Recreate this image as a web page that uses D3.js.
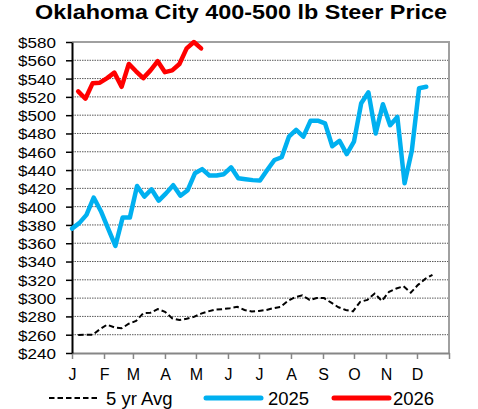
<!DOCTYPE html>
<html>
<head>
<meta charset="utf-8">
<style>
/* page + text styling */
body { margin: 0; background: #fff; }
text { font-family: "Liberation Sans", Arial, sans-serif; fill: #000; }
</style>
</head>
<body>
<svg id="thevis" width="478" height="409"></svg>

<script src="https://d3js.org/d3.v7.min.js"></script>
<script>

// data (weekly prices, $/cwt)

var months = ["J", "F", "M", "A", "M", "J", "J", "A", "S", "O", "N", "D"];
var monthStartDays = [0, 31, 59, 90, 120, 151, 181, 212, 243, 273, 304, 334, 365];
var yTickValues = [240, 260, 280, 300, 320, 340, 360, 380, 400, 420, 440, 460,
                   480, 500, 520, 540, 560, 580];

// first plotted day of each series (day of year), then one value per week
var avgStartDay = 6;
var avg5yr = [259.8, 260, 260, 266, 271, 268, 267, 272, 275, 283.5,
              284, 288, 285, 278, 276, 277.5, 279.5, 283, 285.5, 287.5,
              288, 289, 290.5, 287, 285.5, 286, 287, 289, 290.5, 297,
              301, 303, 298, 300, 300, 295, 290, 287, 285.5, 296,
              298, 305, 297, 307, 310.5, 313, 306, 314.5, 321, 325.5];

var startDay2025 = 0;
var prices2025 = [376, 382, 391, 410, 395, 376, 357, 388, 388, 422.5,
                  411, 419, 406.5, 414.5, 423.5, 412, 418, 436.5, 441, 434,
                  434, 435.5, 443, 431, 430, 429, 428.5, 440, 451, 454,
                  476.5, 484, 476.5, 494, 494, 491, 466, 472, 457.5, 471,
                  513, 525, 480, 512, 489, 498, 425.5, 461, 529.5, 531];

var startDay2026 = 6;
var prices2026 = [526, 518, 535, 535.5, 540.5, 546.5, 531, 556, 548, 540.5,
                  549, 559, 547, 549, 556, 573, 580, 573];

var seriesNames = ["5 yr Avg", "2025", "2026"];


// setup

var svg = d3.select("svg");
var plot = {left: 72, right: 449, top: 42, bottom: 353};

svg.append("rect").attr("width", 478).attr("height", 409).attr("fill", "#fff");

var x = d3.scaleLinear().domain([0, 365]).range([plot.left, plot.right]);
var y = d3.scaleLinear().domain([240, 580]).range([plot.bottom, plot.top]);

// turn a weekly series into [day, value] pairs
function weekly(startDay, values) {
    return values.map(function (v, i) { return [startDay + 7 * i, v]; });
}

var line = d3.line()
    .x(function (d) { return x(d[0]); })
    .y(function (d) { return y(d[1]); });


// title (sits right at the top edge)
svg.append("text")
    .attr("x", 241).attr("y", 18.5)
    .attr("text-anchor", "middle")
    .attr("font-size", 19.5).attr("font-weight", "bold")
    .attr("textLength", 412).attr("lengthAdjust", "spacingAndGlyphs")
    .text("Oklahoma City 400-500 lb Steer Price");


// dotted gridlines
svg.append("g").selectAll("line")
    .data(yTickValues.filter(function (v) { return v > 240 && v < 580; }))
    .enter().append("line")
    .attr("x1", plot.left).attr("x2", plot.right)
    .attr("y1", function (d) { return y(d); })
    .attr("y2", function (d) { return y(d); })
    .attr("stroke", "#5a5a5a").attr("stroke-width", 1)
    .attr("stroke-dasharray", "1.5,1");

// grey frame top + right
svg.append("path")
    .attr("d", "M" + plot.left + "," + plot.top + "H" + plot.right + "V" + plot.bottom)
    .attr("fill", "none").attr("stroke", "#a0a0a0").attr("stroke-width", 2);


// x axis
var xAxis = svg.append("g")
    .attr("transform", "translate(0," + plot.bottom + ")")
    .call(d3.axisBottom(x)
          .tickValues(monthStartDays)
          .tickFormat(function (d, i) { return months[i] || ""; })
          .tickSize(6).tickSizeOuter(0).tickPadding(9.5));
xAxis.select(".domain").attr("stroke", "#868686").attr("stroke-width", 2);
xAxis.selectAll(".tick line").attr("stroke", "#868686").attr("stroke-width", 1.5);
xAxis.selectAll("text").attr("font-size", 16).attr("fill", "#000")
    .attr("font-family", "Liberation Sans, Arial, sans-serif");

// y axis
var yAxis = svg.append("g")
    .attr("transform", "translate(" + plot.left + ",0)")
    .call(d3.axisLeft(y)
          .tickValues(yTickValues)
          .tickFormat(function (d) { return "$" + d; })
          .tickSize(6).tickSizeOuter(0));
yAxis.select(".domain").attr("stroke", "#000").attr("stroke-width", 2);
yAxis.selectAll(".tick line").attr("stroke", "#000").attr("stroke-width", 1.5);
// labels are a touch wider than plain Arial in the original
yAxis.selectAll("text")
    .attr("x", 0).attr("dy", "0.35em")
    .attr("transform", "translate(-16,0) scale(1.1,1)")
    .attr("font-size", 15.5).attr("fill", "#000")
    .attr("font-family", "Liberation Sans, Arial, sans-serif");


// the three series
svg.append("path")
    .datum(weekly(avgStartDay, avg5yr))
    .attr("d", line)
    .attr("fill", "none").attr("stroke", "#000").attr("stroke-width", 2)
    .attr("stroke-dasharray", "5.5,3");

svg.append("path")
    .datum(weekly(startDay2025, prices2025))
    .attr("d", line)
    .attr("fill", "none").attr("stroke", "#00b0f0").attr("stroke-width", 4.5)
    .attr("stroke-linejoin", "round").attr("stroke-linecap", "round");

svg.append("path")
    .datum(weekly(startDay2026, prices2026))
    .attr("d", line)
    .attr("fill", "none").attr("stroke", "#ff0000").attr("stroke-width", 4.5)
    .attr("stroke-linejoin", "round").attr("stroke-linecap", "round");


// legend along the bottom
var legendItems = [
    {name: seriesNames[0], x1: 49, x2: 100, tx: 106, color: "#000", w: 2, dash: "5.5,3", cap: "butt"},
    {name: seriesNames[1], x1: 206, x2: 261, tx: 268, color: "#00b0f0", w: 5, dash: null, cap: "round"},
    {name: seriesNames[2], x1: 334, x2: 389, tx: 393, color: "#ff0000", w: 5, dash: null, cap: "round"}
];

var legend = svg.append("g");
legend.selectAll("line")
    .data(legendItems)
    .enter().append("line")
    .attr("x1", d => d.x1).attr("x2", d => d.x2)
    .attr("y1", 398).attr("y2", 398)
    .attr("stroke", d => d.color).attr("stroke-width", d => d.w)
    .attr("stroke-dasharray", d => d.dash)
    .attr("stroke-linecap", d => d.cap);

legend.selectAll("text")
    .data(legendItems)
    .enter().append("text")
    .attr("x", d => d.tx).attr("y", 405)
    .attr("font-size", 18.5)
    .text(d => d.name);

</script>
</body>
</html>
